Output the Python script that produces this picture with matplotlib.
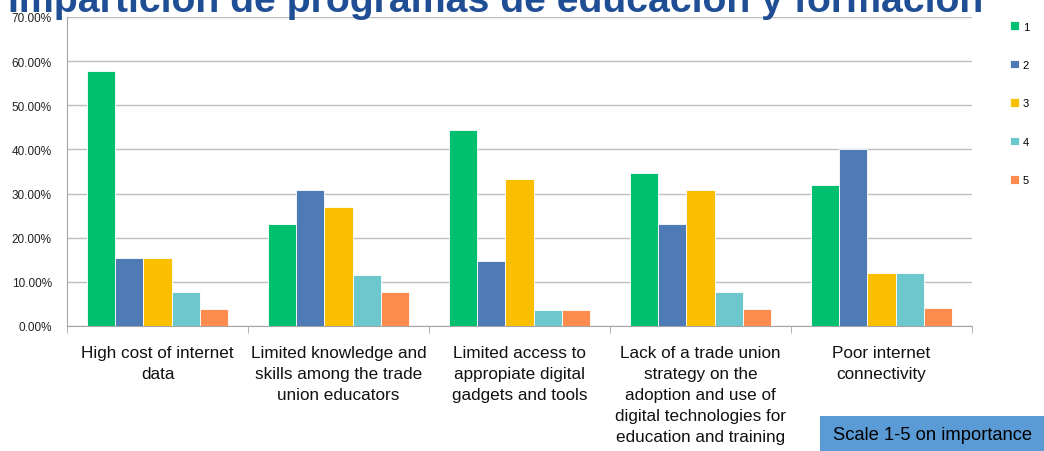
import numpy as np
import matplotlib
matplotlib.use('Agg')
import matplotlib.pyplot as plt
from matplotlib.patches import Rectangle
from matplotlib.ticker import PercentFormatter, FixedLocator

plt.rcParams['font.family'] = ['Liberation Sans', 'DejaVu Sans']

categories = [
    'High cost of internet\ndata',
    'Limited knowledge and\nskills among the trade\nunion educators',
    'Limited access to\nappropiate digital\ngadgets and tools',
    'Lack of a trade union\nstrategy on the\nadoption and use of\ndigital technologies for\neducation and training',
    'Poor internet\nconnectivity',
]
scale_labels = ['1', '2', '3', '4', '5']
scale_1 = [57.69, 23.08, 44.44, 34.62, 32.0]
scale_2 = [15.38, 30.77, 14.81, 23.08, 40.0]
scale_3 = [15.38, 26.92, 33.33, 30.77, 12.0]
scale_4 = [7.69, 11.54, 3.70, 7.69, 12.0]
scale_5 = [3.85, 7.69, 3.70, 3.85, 4.0]
series = [scale_1, scale_2, scale_3, scale_4, scale_5]
colors = ['#00BF6F', '#4E7AB5', '#F9BF00', '#6CC8CC', '#FF8C4F']

fig = plt.figure(figsize=(10.44, 4.52), dpi=100)
ax = fig.add_axes([67/1044, 1 - 327/452, 905/1044, 309/452])

x = np.arange(len(categories))
w = 0.155
handles = []
for i, (vals, c) in enumerate(zip(series, colors)):
    b = ax.bar(x + (i - 2) * w, vals, w, color=c, edgecolor='white',
               linewidth=0.6, zorder=3, label=scale_labels[i])
    handles.append(b)

ax.set_xlim(-0.5, len(categories) - 0.5)
ax.set_ylim(0, 70)
ax.set_yticks(np.arange(0, 71, 10))
ax.yaxis.set_major_formatter(PercentFormatter(decimals=2))
ax.grid(axis='y', color='#BFBFBF', linewidth=1, zorder=0)
for s in ['top', 'right']:
    ax.spines[s].set_visible(False)
for s in ['left', 'bottom']:
    ax.spines[s].set_color('#A6A6A6')
ax.tick_params(axis='y', length=0, labelsize=8.5, pad=11, labelcolor='#222222')

ax.set_xticks(x)
ax.set_xticklabels(categories, fontsize=12.3, linespacing=1.5, color='#111111')
ax.tick_params(axis='x', which='major', length=0, pad=14)
ax.xaxis.set_minor_locator(FixedLocator(np.arange(-0.5, len(categories), 1.0)))
ax.tick_params(axis='x', which='minor', length=5, color='#A6A6A6')

fig.legend(handles=handles, labels=scale_labels, loc='upper left',
           bbox_to_anchor=(1006/1044, 1 - 18/452), frameon=False,
           fontsize=8, handlelength=0.8, handleheight=0.8, handletextpad=0.3,
           labelspacing=2.55, borderaxespad=0)

fig.text(8/1044, 1 - 12/452, 'Impartición de programas de educación y formación',
         fontsize=28.3, fontweight='bold', color='#1F4E94', va='baseline', ha='left')

box = Rectangle((820/1044, 0), 224/1044, 35/452, transform=fig.transFigure,
                facecolor='#5B9BD5', edgecolor='none')
fig.patches.append(box)
fig.text(933/1044, 16/452, 'Scale 1-5 on importance', fontsize=13.2,
         color='black', ha='center', va='center')

fig.savefig('out.png', dpi=100)
